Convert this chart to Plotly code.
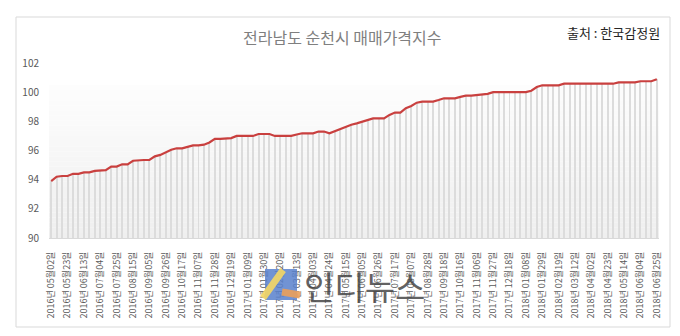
import pandas as pd
import plotly.graph_objects as go

# Weekly sale price index, Suncheon (Jeollanam-do); survey skipped the Chuseok week 2017-10-02
weeks = [d for d in pd.date_range("2016-05-02", "2018-06-25", freq="7D")
         if d != pd.Timestamp("2017-10-02")]
week_labels = [f"{d.year}년 {d.month:02d}월{d.day:02d}일" for d in weeks]

index_values = [
    93.9, 94.2, 94.25, 94.25, 94.4, 94.4, 94.5, 94.5, 94.6, 94.6,
    94.65, 94.9, 94.9, 95.05, 95.05, 95.3, 95.35, 95.35, 95.35, 95.6,
    95.7, 95.9, 96.05, 96.15, 96.15, 96.25, 96.35, 96.35, 96.4, 96.55,
    96.8, 96.8, 96.8, 96.85, 97.0, 97.0, 97.0, 97.0, 97.13, 97.13,
    97.13, 97.0, 97.0, 97.0, 97.0, 97.1, 97.18, 97.18, 97.18, 97.3,
    97.3, 97.18, 97.33, 97.47, 97.62, 97.77, 97.86, 97.98, 98.09, 98.2,
    98.2, 98.2, 98.44, 98.6, 98.6, 98.9, 99.05, 99.28, 99.35, 99.35,
    99.35, 99.46, 99.58, 99.58, 99.58, 99.68, 99.76, 99.76, 99.8, 99.88,
    99.88, 100.0, 100.0, 100.0, 100.0, 100.0, 100.0, 100.0, 100.1, 100.35,
    100.47, 100.47, 100.47, 100.47, 100.58, 100.58, 100.58, 100.58, 100.58, 100.58,
    100.58, 100.58, 100.58, 100.58, 100.67, 100.67, 100.67, 100.67, 100.75, 100.75,
    100.75, 100.88,
]

y_ticks = [90, 92, 94, 96, 98, 100, 102]
x_ticks = week_labels[::3]

title_text = "전라남도 순천시 매매가격지수"
source_text = "출처 : 한국감정원"
brand_text = "인디뉴스"

FONT = "Noto Sans CJK KR"
W, H = 680, 336
L, R, T, B = 49, 21, 63, 98
PW, PH = W - L - R, H - T - B


def px(x):
    return (x - L) / PW


def py(y):
    return (H - B - y) / PH


fig = go.Figure()

# drop lines from the axis up to each weekly value
fig.add_trace(go.Bar(
    x=week_labels, y=index_values, width=0.18,
    marker=dict(color="#dcdcdc", line=dict(width=0)),
    hoverinfo="skip",
))
fig.add_trace(go.Scatter(
    x=week_labels, y=index_values, mode="lines",
    line=dict(color="#c9403f", width=2.2),
))

shapes = []
# soft vertical gradient behind the series
steps = 30
top, bottom = 100.5, 90.0
for k in range(steps):
    y0 = top - (top - bottom) * k / steps
    y1 = top - (top - bottom) * (k + 1) / steps
    g = round(253 - 14 * (k + 0.5) / steps)
    shapes.append(dict(type="rect", xref="paper", yref="y", x0=0, x1=1,
                       y0=y1, y1=y0, fillcolor=f"rgb({g},{g},{g})",
                       line=dict(width=0), layer="below"))
# outer chart frame
shapes.append(dict(type="rect", xref="paper", yref="paper",
                   x0=px(16), x1=px(670), y0=py(327), y1=py(17),
                   line=dict(color="#d9d9d9", width=1), layer="below"))
# brand mark
shapes.append(dict(type="rect", xref="paper", yref="paper",
                   x0=px(265), x1=px(297), y0=py(300), y1=py(269),
                   fillcolor="rgba(88,128,205,0.85)", line=dict(width=0)))
shapes.append(dict(type="line", xref="paper", yref="paper",
                   x0=px(283), y0=py(270), x1=px(263), y1=py(298),
                   line=dict(color="rgba(245,215,100,0.9)", width=7)))
shapes.append(dict(type="line", xref="paper", yref="paper",
                   x0=px(282), y0=py(292), x1=px(300), y1=py(295),
                   line=dict(color="rgba(235,160,90,0.9)", width=7)))

annotations = [
    dict(text=title_text, xref="paper", yref="paper", x=px(342), y=py(37),
         xanchor="center", yanchor="middle", showarrow=False,
         font=dict(family=FONT, size=16, color="#7f7f7f")),
    dict(text=source_text, xref="paper", yref="paper", x=px(662), y=py(33),
         xanchor="right", yanchor="middle", showarrow=False,
         font=dict(family=FONT, size=13, color="#262626")),
    dict(text=brand_text, xref="paper", yref="paper", x=px(302), y=py(286),
         xanchor="left", yanchor="middle", showarrow=False,
         font=dict(family=FONT, size=33, color="rgba(70,70,70,0.85)")),
]

fig.update_layout(
    width=W, height=H,
    margin=dict(l=L, r=R, t=T, b=B, pad=0),
    paper_bgcolor="white", plot_bgcolor="rgba(0,0,0,0)",
    showlegend=False, bargap=0,
    shapes=shapes, annotations=annotations,
    font=dict(family=FONT, color="#595959"),
)
fig.update_xaxes(
    type="category", range=[-0.4, len(week_labels) - 0.6],
    tickmode="array", tickvals=x_ticks, ticktext=x_ticks,
    tickangle=-90, tickfont=dict(size=9, color="#595959"),
    showgrid=False, showline=True, linecolor="#d9d9d9", linewidth=1,
    ticks="", ticklabelstandoff=9, zeroline=False,
)
fig.update_yaxes(
    range=[90, 102], tickvals=y_ticks, tickfont=dict(size=10, color="#595959"),
    showgrid=False, zeroline=False, showline=False, ticks="",
    ticklabelstandoff=9,
)

fig.write_html("out.html")
